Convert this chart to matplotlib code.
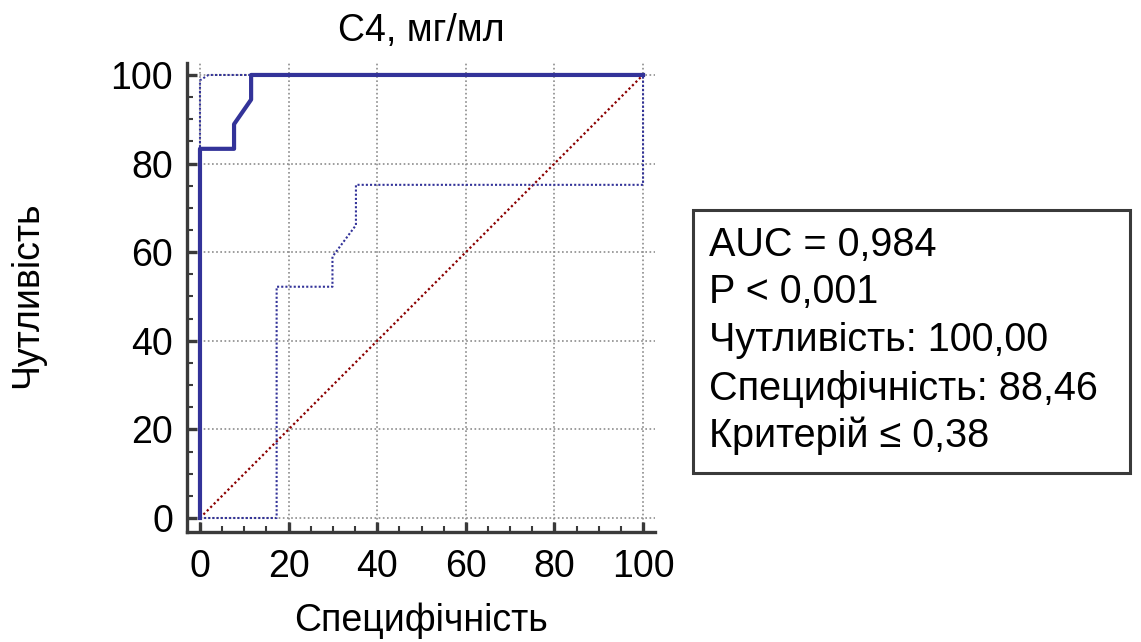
import matplotlib
matplotlib.use("Agg")
import matplotlib.pyplot as plt
from matplotlib.patches import Rectangle
from matplotlib.ticker import MultipleLocator

plt.rcParams["font.family"] = ["Liberation Sans", "DejaVu Sans"]

# ROC curve (100 - specificity vs sensitivity)
roc_x = [0, 0, 7.69, 7.69, 11.54, 11.54, 100]
roc_y = [0, 83.33, 83.33, 88.89, 94.44, 100, 100]

# confidence bounds
upper_x = [0, 0, 1.9, 100]
upper_y = [0, 98.8, 100, 100]
lower_x = [0, 17.3, 17.3, 29.9, 29.9, 35.2, 35.2, 100, 100]
lower_y = [0, 0, 52.2, 52.2, 59.0, 66.1, 75.2, 75.2, 100]

ticks = [0, 20, 40, 60, 80, 100]
title = "C4, мг/мл"
x_label = "Специфічність"
y_label = "Чутливість"
stats_lines = ["AUC = 0,984", "P < 0,001", "Чутливість: 100,00",
               "Специфічність: 88,46", "Критерій ≤ 0,38"]

W, H = 1141, 642
fig = plt.figure(figsize=(W / 100, H / 100), dpi=100)
ax = fig.add_axes([187 / W, 1 - 532 / H, (655 - 187) / W, (532 - 63) / H])

blue = "#333399"
spine_col = "#3a3a3a"

ax.plot([0, 100], [0, 100], color="#8b0000", lw=1.6, ls=(0, (1, 1.2)))
ax.plot(upper_x, upper_y, color=blue, lw=1.5, ls=(0, (1, 1)))
ax.plot(lower_x, lower_y, color=blue, lw=1.5, ls=(0, (1, 1)))
ax.plot(roc_x, roc_y, color=blue, lw=3)

ax.set_xlim(-2.93, 102.7)
ax.set_ylim(-3.16, 102.7)
ax.set_xticks(ticks)
ax.set_yticks(ticks)
ax.xaxis.set_minor_locator(MultipleLocator(5))
ax.yaxis.set_minor_locator(MultipleLocator(5))
ax.grid(True, which="major", color="#8c8c8c", ls=(0, (1, 1.5)), lw=1.2)
ax.set_axisbelow(True)

for s in ["top", "right"]:
    ax.spines[s].set_visible(False)
for s in ["left", "bottom"]:
    ax.spines[s].set_color(spine_col)
    ax.spines[s].set_linewidth(2.4)

ax.tick_params(which="major", direction="in", length=7, width=2.4,
               color=spine_col, labelsize=27, pad=10)
ax.tick_params(which="minor", direction="in", length=4, width=1.5,
               color=spine_col)
ax.tick_params(axis="x", which="major", pad=12)

ax.set_title(title, fontsize=27, pad=16)
fig.text(421 / W, 1 - 631 / H, x_label, fontsize=27, ha="center", va="baseline")
fig.text(27 / W, 1 - 295 / H, y_label, fontsize=27, ha="center", va="center",
         rotation=90)

# statistics box
box = Rectangle((693 / W, 1 - 473 / H), (1130 - 693) / W, (473 - 210) / H,
                transform=fig.transFigure, fill=False, edgecolor=spine_col, lw=2.2)
fig.patches.append(box)
baselines = [256, 302.7, 350.7, 400, 446.7]
for line, yb in zip(stats_lines, baselines):
    fig.text(709 / W, 1 - yb / H, line, fontsize=28.5, ha="left", va="baseline")

fig.savefig("out.png", dpi=100, facecolor="white")
